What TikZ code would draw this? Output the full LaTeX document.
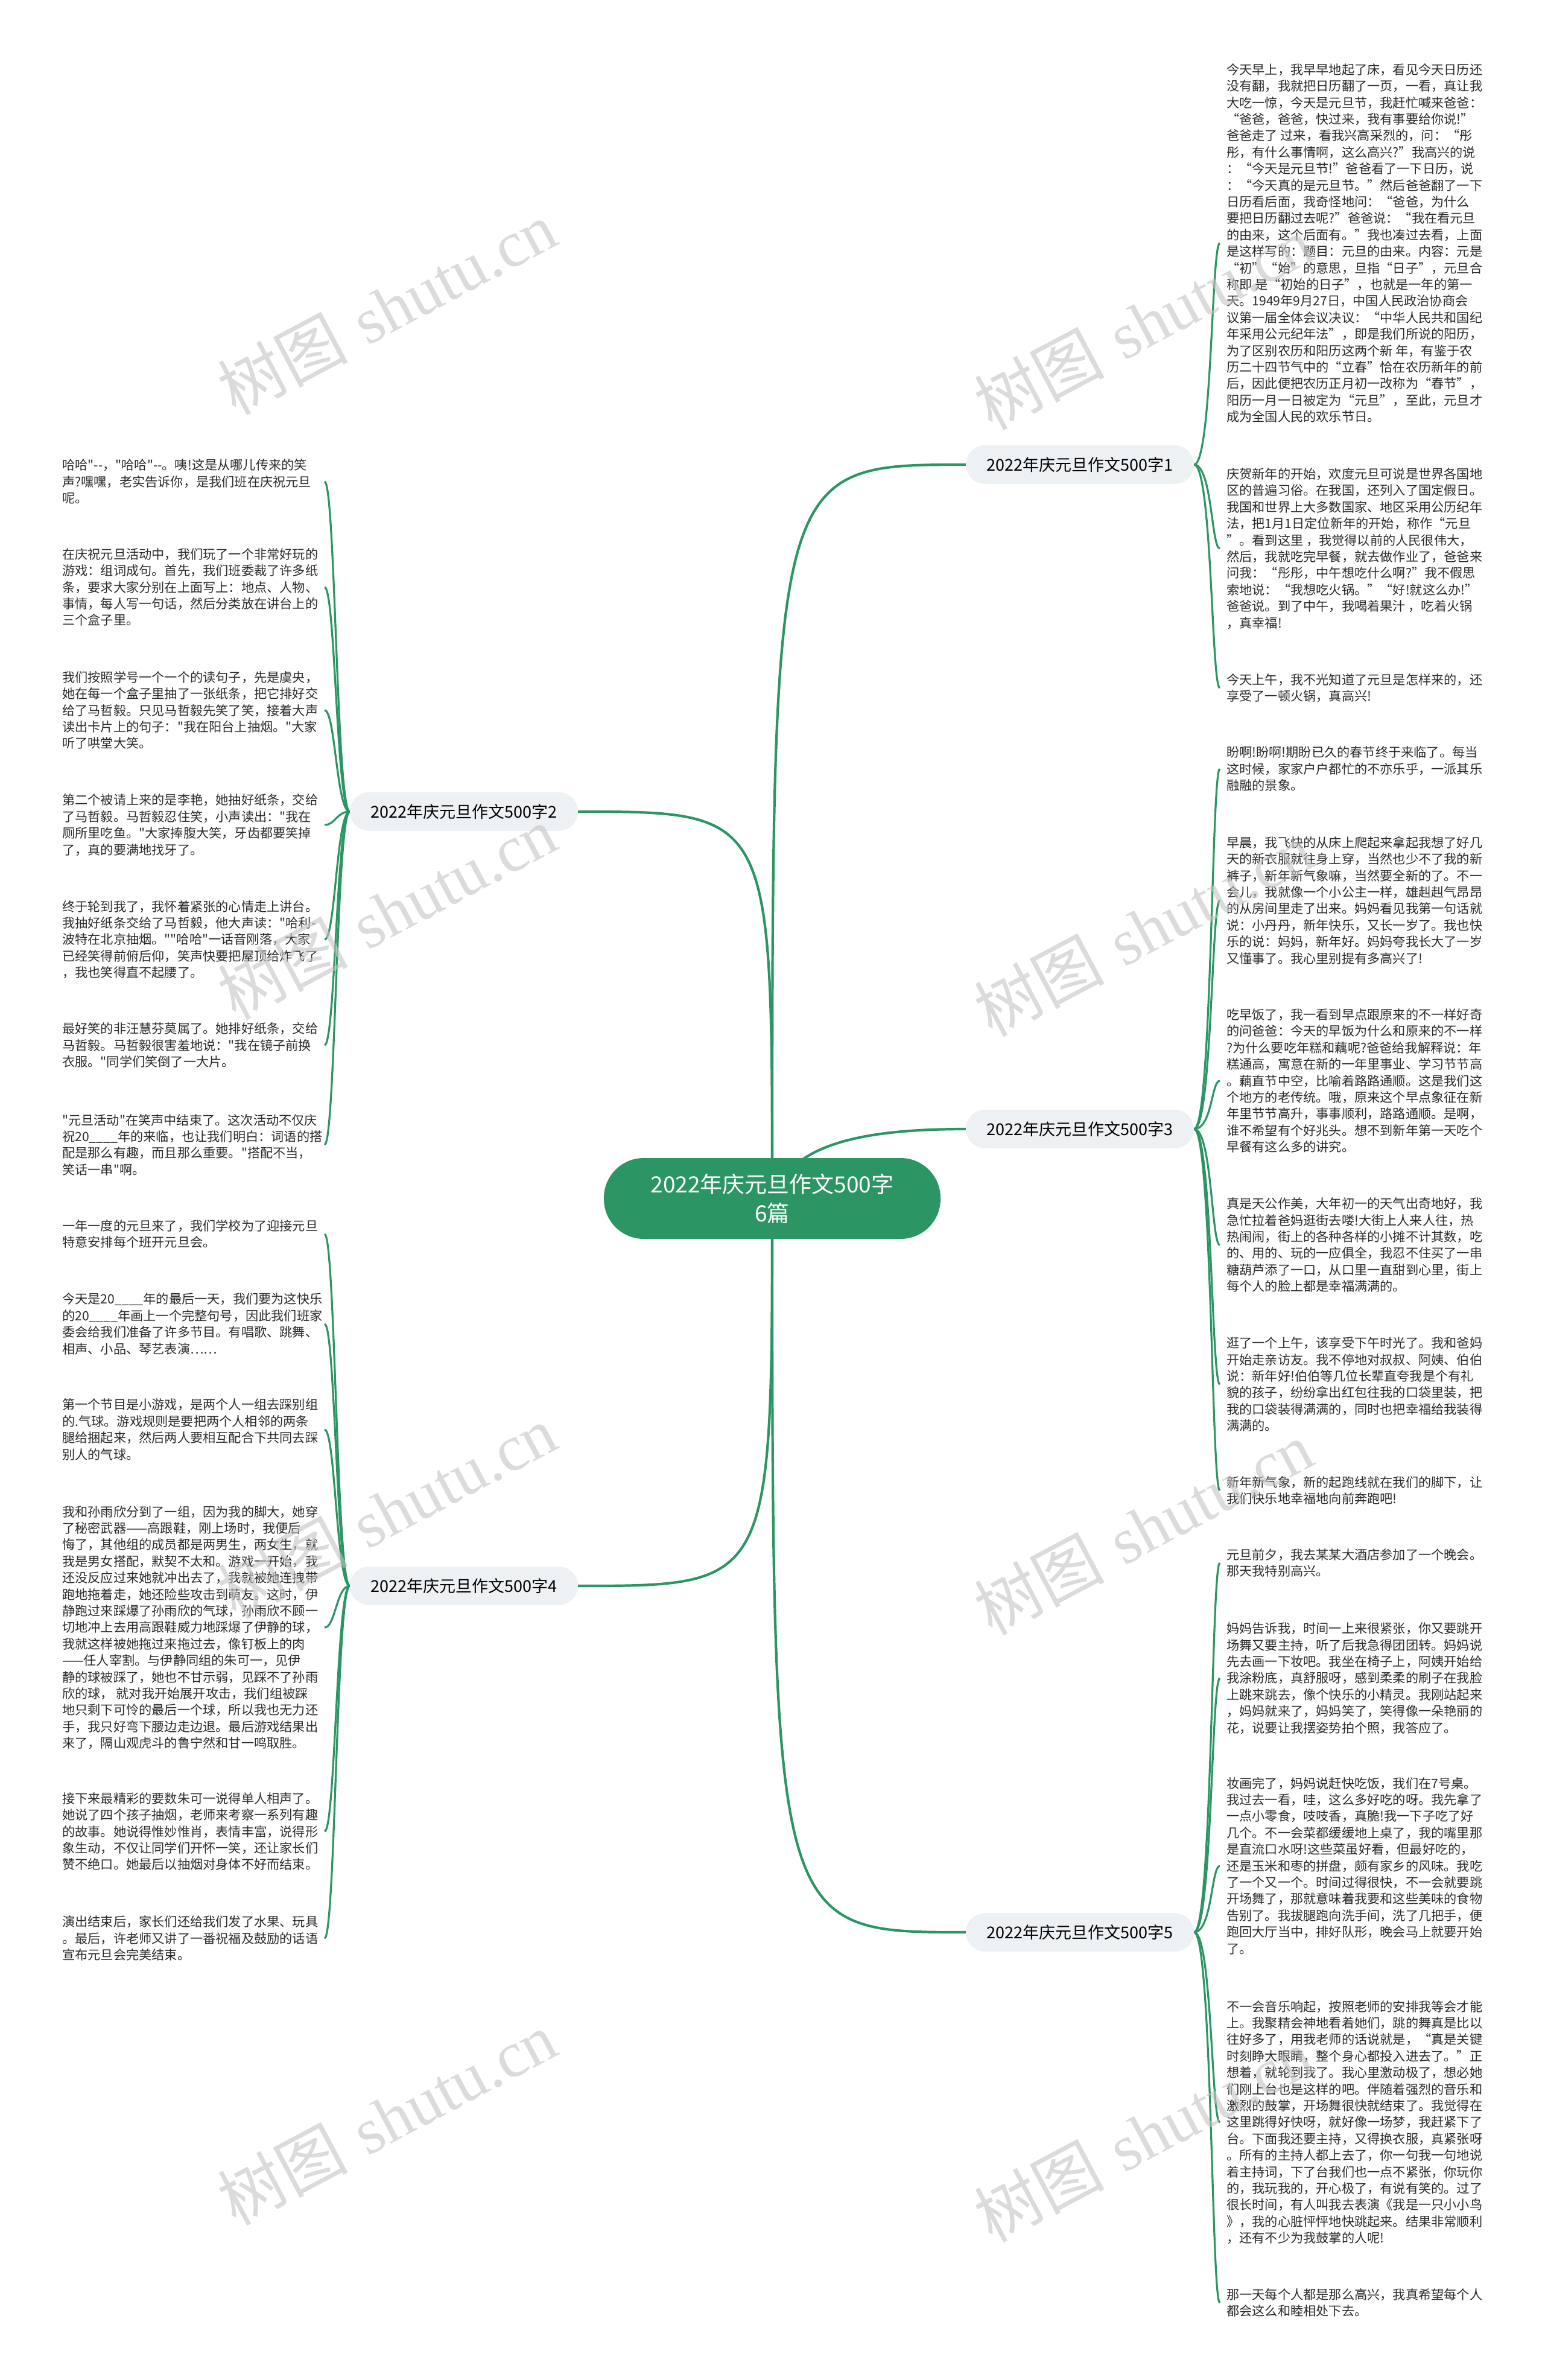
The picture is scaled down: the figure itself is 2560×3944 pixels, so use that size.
\documentclass[tikz,border=0pt]{standalone}
\usepackage{fontspec}
\newfontfamily\cjk{Noto Sans CJK SC}
\newfontfamily\wmserif{Liberation Serif}
\usetikzlibrary{backgrounds}
\definecolor{mgreen}{HTML}{2B9664}
\definecolor{bfill}{HTML}{EDF1F4}
\definecolor{ptext}{HTML}{2A2A2A}
\definecolor{wmgray}{HTML}{C4C4C4}
\begin{document}
\begin{tikzpicture}[x=1pt,y=-1pt,
  para/.style={font=\cjk\fontsize{21.2}{27.4}\selectfont, text=ptext, align=left, inner sep=0pt, anchor=west},
  branch/.style={font=\cjk\fontsize{27}{32}\selectfont, text=black, fill=bfill, minimum width=378pt, minimum height=64pt, rounded corners=32pt, inner sep=0pt},
  root/.style={font=\cjk\fontsize{37}{48}\selectfont, text=white, fill=mgreen, align=center, minimum width=558pt, minimum height=134pt, rounded corners=66pt, inner sep=0pt},
  mainline/.style={draw=mgreen, line width=4.2pt},
  subline/.style={draw=mgreen, line width=3.2pt},
  wmark/.style={font=\fontsize{108}{108}\selectfont, text=wmgray, opacity=0.6, rotate=28, inner sep=0pt}
]
\begin{pgfonlayer}{background}
\fill[white] (0,0) rectangle (2560,3944);
\end{pgfonlayer}
\path[use as bounding box] (0,0) rectangle (2560,3944);
\coordinate (rx) at (2022,0);
\coordinate (lx) at (538,0);

% root and branches
\node[root] (c) at (1280,1986) {2022年庆元旦作文500字\\6篇};
\node[branch] (b1) at (1790,770) {2022年庆元旦作文500字1};
\node[branch] (b3) at (1790,1871) {2022年庆元旦作文500字3};
\node[branch] (b5) at (1790,3202) {2022年庆元旦作文500字5};
\node[branch] (b2) at (769,1345) {2022年庆元旦作文500字2};
\node[branch] (b4) at (769,2628) {2022年庆元旦作文500字4};

% right paragraphs
\node[para] (r1a) at (2033,403) {今天早上，我早早地起了床，看见今天日历还\\没有翻，我就把日历翻了一页，一看，真让我\\大吃一惊，今天是元旦节，我赶忙喊来爸爸：\\“爸爸，爸爸，快过来，我有事要给你说!”\\爸爸走了 过来，看我兴高采烈的，问：“彤\\彤，有什么事情啊，这么高兴?”我高兴的说\\：“今天是元旦节!”爸爸看了一下日历，说\\：“今天真的是元旦节。”然后爸爸翻了一下\\日历看后面，我奇怪地问：“爸爸，为什么\\要把日历翻过去呢?”爸爸说：“我在看元旦\\的由来，这个后面有。”我也凑过去看，上面\\是这样写的：题目：元旦的由来。内容：元是\\“初”“始”的意思，旦指“日子”，元旦合\\称即 是“初始的日子”，也就是一年的第一\\天。1949年9月27日，中国人民政治协商会\\议第一届全体会议决议：“中华人民共和国纪\\年采用公元纪年法”，即是我们所说的阳历，\\为了区别农历和阳历这两个新 年，有鉴于农\\历二十四节气中的“立春”恰在农历新年的前\\后，因此便把农历正月初一改称为“春节”，\\阳历一月一日被定为“元旦”，至此，元旦才\\成为全国人民的欢乐节日。};
\node[para] (r1b) at (2033,909) {庆贺新年的开始，欢度元旦可说是世界各国地\\区的普遍习俗。在我国，还列入了国定假日。\\我国和世界上大多数国家、地区采用公历纪年\\法，把1月1日定位新年的开始，称作“元旦\\”。看到这里 ，我觉得以前的人民很伟大，\\然后，我就吃完早餐，就去做作业了，爸爸来\\问我：“彤彤，中午想吃什么啊?”我不假思\\索地说：“我想吃火锅。”“好!就这么办!”\\爸爸说。到了中午，我喝着果汁 ，吃着火锅\\，真幸福!};
\node[para] (r1c) at (2033,1140) {今天上午，我不光知道了元旦是怎样来的，还\\享受了一顿火锅，真高兴!};
\node[para] (r3a) at (2033,1274) {盼啊!盼啊!期盼已久的春节终于来临了。每当\\这时候，家家户户都忙的不亦乐乎，一派其乐\\融融的景象。};
\node[para] (r3b) at (2033,1492) {早晨，我飞快的从床上爬起来拿起我想了好几\\天的新衣服就往身上穿，当然也少不了我的新\\裤子，新年新气象嘛，当然要全新的了。不一\\会儿，我就像一个小公主一样，雄赳赳气昂昂\\的从房间里走了出来。妈妈看见我第一句话就\\说：小丹丹，新年快乐，又长一岁了。我也快\\乐的说：妈妈，新年好。妈妈夸我长大了一岁\\又懂事了。我心里别提有多高兴了!};
\node[para] (r3c) at (2033,1791) {吃早饭了，我一看到早点跟原来的不一样好奇\\的问爸爸：今天的早饭为什么和原来的不一样\\?为什么要吃年糕和藕呢?爸爸给我解释说：年\\糕通高，寓意在新的一年里事业、学习节节高\\。藕直节中空，比喻着路路通顺。这是我们这\\个地方的老传统。哦，原来这个早点象征在新\\年里节节高升，事事顺利，路路通顺。是啊，\\谁不希望有个好兆头。想不到新年第一天吃个\\早餐有这么多的讲究。};
\node[para] (r3d) at (2033,2063) {真是天公作美，大年初一的天气出奇地好，我\\急忙拉着爸妈逛街去喽!大街上人来人往，热\\热闹闹，街上的各种各样的小摊不计其数，吃\\的、用的、玩的一应俱全，我忍不住买了一串\\糖葫芦添了一口，从口里一直甜到心里，街上\\每个人的脸上都是幸福满满的。};
\node[para] (r3e) at (2033,2294) {逛了一个上午，该享受下午时光了。我和爸妈\\开始走亲访友。我不停地对叔叔、阿姨、伯伯\\说：新年好!伯伯等几位长辈直夸我是个有礼\\貌的孩子，纷纷拿出红包往我的口袋里装，把\\我的口袋装得满满的，同时也把幸福给我装得\\满满的。};
\node[para] (r3f) at (2033,2470) {新年新气象，新的起跑线就在我们的脚下，让\\我们快乐地幸福地向前奔跑吧!};
\node[para] (r5a) at (2033,2590) {元旦前夕，我去某某大酒店参加了一个晚会。\\那天我特别高兴。};
\node[para] (r5b) at (2033,2781) {妈妈告诉我，时间一上来很紧张，你又要跳开\\场舞又要主持，听了后我急得团团转。妈妈说\\先去画一下妆吧。我坐在椅子上，阿姨开始给\\我涂粉底，真舒服呀，感到柔柔的刷子在我脸\\上跳来跳去，像个快乐的小精灵。我刚站起来\\，妈妈就来了，妈妈笑了，笑得像一朵艳丽的\\花，说要让我摆姿势拍个照，我答应了。};
\node[para] (r5c) at (2033,3092) {妆画完了，妈妈说赶快吃饭，我们在7号桌。\\我过去一看，哇，这么多好吃的呀。我先拿了\\一点小零食，吱吱香，真脆!我一下子吃了好\\几个。不一会菜都缓缓地上桌了，我的嘴里那\\是直流口水呀!这些菜虽好看，但最好吃的，\\还是玉米和枣的拼盘，颇有家乡的风味。我吃\\了一个又一个。时间过得很快，不一会就要跳\\开场舞了，那就意味着我要和这些美味的食物\\告别了。我拔腿跑向洗手间，洗了几把手，便\\跑回大厅当中，排好队形，晚会马上就要开始\\了。};
\node[para] (r5d) at (2033,3517) {不一会音乐响起，按照老师的安排我等会才能\\上。我聚精会神地看着她们，跳的舞真是比以\\往好多了，用我老师的话说就是，“真是关键\\时刻睁大眼睛，整个身心都投入进去了。”正\\想着，就轮到我了。我心里激动极了，想必她\\们刚上台也是这样的吧。伴随着强烈的音乐和\\激烈的鼓掌，开场舞很快就结束了。我觉得在\\这里跳得好快呀，就好像一场梦，我赶紧下了\\台。下面我还要主持，又得换衣服，真紧张呀\\。所有的主持人都上去了，你一句我一句地说\\着主持词，下了台我们也一点不紧张，你玩你\\的，我玩我的，开心极了，有说有笑的。过了\\很长时间，有人叫我去表演《我是一只小小鸟\\》，我的心脏怦怦地快跳起来。结果非常顺利\\，还有不少为我鼓掌的人呢!};
\node[para] (r5e) at (2033,3816) {那一天每个人都是那么高兴，我真希望每个人\\都会这么和睦相处下去。};

% left paragraphs
\node[para] (l2a) at (103,798) {哈哈"--，"哈哈"--。咦!这是从哪儿传来的笑\\声?嘿嘿，老实告诉你，是我们班在庆祝元旦\\呢。};
\node[para] (l2b) at (103,973) {在庆祝元旦活动中，我们玩了一个非常好玩的\\游戏：组词成句。首先，我们班委裁了许多纸\\条，要求大家分别在上面写上：地点、人物、\\事情，每人写一句话，然后分类放在讲台上的\\三个盒子里。};
\node[para] (l2c) at (103,1177) {我们按照学号一个一个的读句子，先是虞央，\\她在每一个盒子里抽了一张纸条，把它排好交\\给了马哲毅。只见马哲毅先笑了笑，接着大声\\读出卡片上的句子："我在阳台上抽烟。"大家\\听了哄堂大笑。};
\node[para] (l2d) at (103,1367) {第二个被请上来的是李艳，她抽好纸条，交给\\了马哲毅。马哲毅忍住笑，小声读出："我在\\厕所里吃鱼。"大家捧腹大笑，牙齿都要笑掉\\了，真的要满地找牙了。};
\node[para] (l2e) at (103,1557) {终于轮到我了，我怀着紧张的心情走上讲台。\\我抽好纸条交给了马哲毅，他大声读："哈利-\\波特在北京抽烟。""哈哈"一话音刚落，大家\\已经笑得前俯后仰，笑声快要把屋顶给炸飞了\\，我也笑得直不起腰了。};
\node[para] (l2f) at (103,1732) {最好笑的非汪慧芬莫属了。她排好纸条，交给\\马哲毅。马哲毅很害羞地说："我在镜子前换\\衣服。"同学们笑倒了一大片。};
\node[para] (l2g) at (103,1897) {"元旦活动"在笑声中结束了。这次活动不仅庆\\祝20\_\_\_\_年的来临，也让我们明白：词语的搭\\配是那么有趣，而且那么重要。"搭配不当，\\笑话一串"啊。};
\node[para] (l4a) at (103,2045) {一年一度的元旦来了，我们学校为了迎接元旦\\特意安排每个班开元旦会。};
\node[para] (l4b) at (103,2194) {今天是20\_\_\_\_年的最后一天，我们要为这快乐\\的20\_\_\_\_年画上一个完整句号，因此我们班家\\委会给我们准备了许多节目。有唱歌、跳舞、\\相声、小品、琴艺表演……};
\node[para] (l4c) at (103,2369) {第一个节目是小游戏，是两个人一组去踩别组\\的.气球。游戏规则是要把两个人相邻的两条\\腿给捆起来，然后两人要相互配合下共同去踩\\别人的气球。};
\node[para] (l4d) at (103,2697) {我和孙雨欣分到了一组，因为我的脚大，她穿\\了秘密武器——高跟鞋，刚上场时，我便后\\悔了，其他组的成员都是两男生，两女生，就\\我是男女搭配，默契不太和。游戏一开始，我\\还没反应过来她就冲出去了，我就被她连拽带\\跑地拖着走，她还险些攻击到萌友。这时，伊\\静跑过来踩爆了孙雨欣的气球，孙雨欣不顾一\\切地冲上去用高跟鞋威力地踩爆了伊静的球，\\我就这样被她拖过来拖过去，像钉板上的肉\\——任人宰割。与伊静同组的朱可一，见伊\\静的球被踩了，她也不甘示弱，见踩不了孙雨\\欣的球， 就对我开始展开攻击，我们组被踩\\地只剩下可怜的最后一个球，所以我也无力还\\手，我只好弯下腰边走边退。最后游戏结果出\\来了，隔山观虎斗的鲁宁然和甘一鸣取胜。};
\node[para] (l4e) at (103,3035) {接下来最精彩的要数朱可一说得单人相声了。\\她说了四个孩子抽烟，老师来考察一系列有趣\\的故事。她说得惟妙惟肖，表情丰富，说得形\\象生动，不仅让同学们开怀一笑，还让家长们\\赞不绝口。她最后以抽烟对身体不好而结束。};
\node[para] (l4f) at (103,3212) {演出结束后，家长们还给我们发了水果、玩具\\。最后，许老师又讲了一番祝福及鼓励的话语\\宣布元旦会完美结束。};

% connectors
\begin{pgfonlayer}{background}
\draw[mainline] (c.center) .. controls (c.center |- b1.west) .. (b1.west);
\draw[mainline] (c.center) .. controls (c.center |- b2.east) .. (b2.east);
\draw[mainline] (c.center) .. controls +(30,-86) and +(-185,0) .. (b3.west);
\draw[mainline] (c.center) .. controls (c.center |- b4.east) .. (b4.east);
\draw[mainline] (c.center) .. controls (c.center |- b5.west) .. (b5.west);
\foreach \p in {r1a,r1b,r1c}
  \draw[subline] (b1.east) .. controls +(30,0) and +(-14,0) .. (\p.west -| rx);
\foreach \p in {r3a,r3b,r3c,r3d,r3e,r3f}
  \draw[subline] (b3.east) .. controls +(30,0) and +(-14,0) .. (\p.west -| rx);
\foreach \p in {r5a,r5b,r5c,r5d,r5e}
  \draw[subline] (b5.east) .. controls +(30,0) and +(-14,0) .. (\p.west -| rx);
\foreach \p in {l2a,l2b,l2c,l2d,l2e,l2f,l2g}
  \draw[subline] (b2.west) .. controls +(-22,0) and +(18,0) .. (\p.west -| lx);
\foreach \p in {l4a,l4b,l4c,l4d,l4e,l4f}
  \draw[subline] (b4.west) .. controls +(-22,0) and +(18,0) .. (\p.west -| lx);
\end{pgfonlayer}

% watermarks
\foreach \x/\y [count=\i] in {641/510, 1895/535, 641/1512, 1895/1540, 641/2505, 1895/2532, 641/3510, 1895/3538}
  \node[wmark] (wm\i) at (\x,\y) {{\cjk 树图} {\wmserif shutu.cn}};
\end{tikzpicture}
\end{document}
